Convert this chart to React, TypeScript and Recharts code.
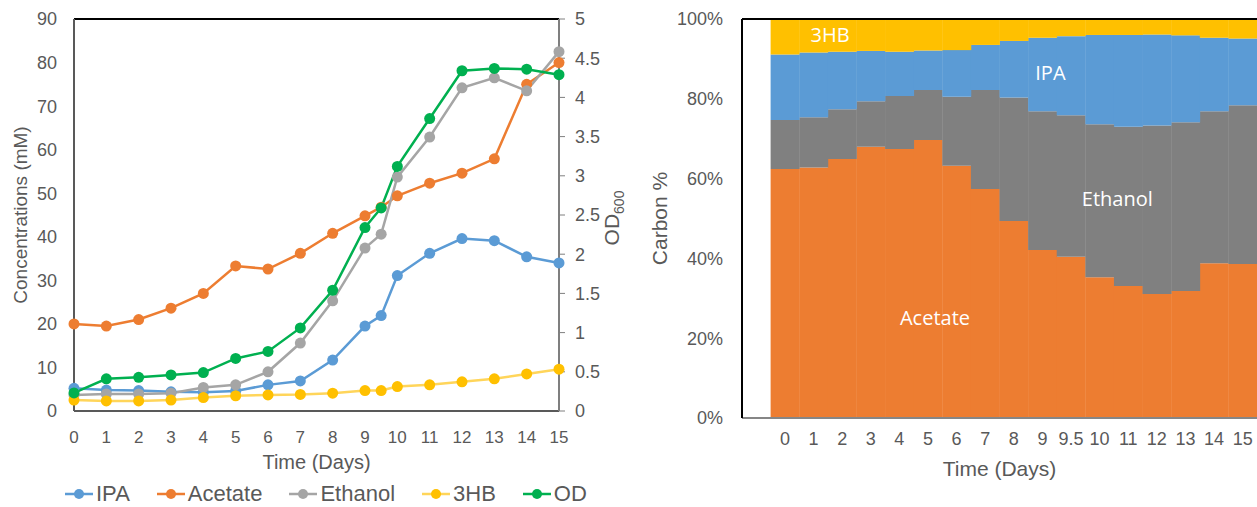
import React from "react";
import {
  LineChart,
  Line,
  XAxis,
  YAxis,
  ReferenceLine,
  BarChart,
  Bar,
  ReferenceDot,
} from "recharts";

// left panel: concentrations (mM) and OD600 over time
const days = [0, 1, 2, 3, 4, 5, 6, 7, 8, 9, 9.5, 10, 11, 12, 13, 14, 15];
const ipa = [5.2, 4.8, 4.7, 4.4, 4.3, 4.6, 6.0, 6.9, 11.7, 19.5, 21.9, 31.1, 36.2, 39.6, 39.1, 35.4, 34.0];
const acetate = [20.0, 19.5, 21.0, 23.6, 27.0, 33.3, 32.6, 36.2, 40.8, 44.8, 46.8, 49.4, 52.3, 54.6, 57.9, 75.0, 80.0];
const ethanol = [3.7, 3.9, 3.9, 4.1, 5.4, 6.0, 9.0, 15.6, 25.3, 37.4, 40.6, 53.7, 62.9, 74.2, 76.5, 73.5, 82.5];
const hb3 = [2.5, 2.3, 2.3, 2.5, 3.1, 3.5, 3.7, 3.8, 4.1, 4.7, 4.7, 5.6, 6.0, 6.7, 7.4, 8.5, 9.6];
const od = [0.23, 0.41, 0.43, 0.46, 0.49, 0.67, 0.76, 1.06, 1.54, 2.34, 2.59, 3.12, 3.73, 4.34, 4.37, 4.36, 4.29];

const dayTicks = [0, 1, 2, 3, 4, 5, 6, 7, 8, 9, 10, 11, 12, 13, 14, 15];
const concTicks = [0, 10, 20, 30, 40, 50, 60, 70, 80, 90];
const odTicks = [0, 0.5, 1, 1.5, 2, 2.5, 3, 3.5, 4, 4.5, 5];

// right panel: carbon share (%) per sampling day, first slot is left empty
const carbonDays = ["", "0", "1", "2", "3", "4", "5", "6", "7", "8", "9", "9.5", "10", "11", "12", "13", "14", "15"];
const cAcetate = [null, 62.4, 62.8, 64.9, 68.0, 67.4, 69.7, 63.2, 57.4, 49.4, 42.1, 40.4, 35.3, 33.1, 31.1, 31.8, 38.8, 38.6];
const cEthanol = [null, 12.3, 12.6, 12.5, 11.4, 13.3, 12.5, 17.3, 24.8, 30.9, 34.8, 35.5, 38.3, 39.9, 42.2, 42.3, 38.1, 39.8];
const cIpa = [null, 16.4, 16.2, 14.4, 12.6, 11.1, 9.9, 11.7, 11.3, 14.2, 18.4, 19.8, 22.4, 23.0, 22.8, 21.8, 18.4, 16.7];
const cHb3 = [null, 8.9, 8.4, 8.2, 8.0, 8.2, 7.9, 7.8, 6.5, 5.5, 4.7, 4.3, 4.0, 4.0, 3.9, 4.1, 4.7, 4.9];
const pctTicks = [0, 20, 40, 60, 80, 100];

const C = {
  ipa: "#5B9BD5",
  acetate: "#ED7D31",
  ethanol: "#A5A5A5",
  ethanolArea: "#808080",
  hb3: "#FFC000",
  hb3Line: "#FFD55A",
  od: "#00B050",
  text: "#595959",
};

const lineData = days.map((d, i) => ({
  day: d,
  ipa: ipa[i],
  acetate: acetate[i],
  ethanol: ethanol[i],
  hb3: hb3[i],
  od: od[i],
}));

const barData = carbonDays.map((d, i) => ({
  day: d,
  acetate: cAcetate[i],
  ethanol: cEthanol[i],
  ipa: cIpa[i],
  hb3: cHb3[i],
}));

const legendItems = [
  { name: "IPA", line: C.ipa, dot: C.ipa },
  { name: "Acetate", line: C.acetate, dot: C.acetate },
  { name: "Ethanol", line: C.ethanol, dot: C.ethanol },
  { name: "3HB", line: C.hb3Line, dot: C.hb3 },
  { name: "OD", line: C.od, dot: C.od },
];

const axisFont = "'Liberation Sans', Arial, sans-serif";
const labelFont = "'Open Sans', 'Liberation Sans', sans-serif";

// OD600 title on the right axis, reading bottom to top
function OdLabel() {
  return (
    <text
      x={619}
      y={218}
      transform="rotate(-90 619 218)"
      textAnchor="middle"
      fill={C.text}
      fontSize={21}
      fontFamily={axisFont}
    >
      OD
      <tspan fontSize={14} dy={5}>600</tspan>
    </text>
  );
}

function whiteLabel(value: string, dx: number) {
  return {
    value,
    position: "center" as const,
    fill: "#ffffff",
    fontSize: 20,
    fontFamily: labelFont,
    dx,
  };
}

export default function App() {
  return (
    <div
      style={{
        position: "fixed",
        left: 0,
        top: 0,
        width: 1257,
        height: 507,
        overflow: "hidden",
        background: "#fff",
      }}
    >
      <div style={{ position: "absolute", left: 0, top: 0 }}>
        <LineChart
          width={640}
          height={507}
          data={lineData}
          margin={{ top: 19, right: 0, bottom: 38, left: 0 }}
        >
          <XAxis
            dataKey="day"
            type="number"
            domain={[0, 15]}
            ticks={dayTicks}
            interval={0}
            height={58}
            axisLine={{ stroke: C.text, strokeWidth: 2 }}
            tickLine={false}
            tickSize={0}
            tickMargin={20}
            tick={{ fill: C.text, fontSize: 17, fontFamily: axisFont }}
            label={{
              value: "Time (Days)",
              position: "insideBottom",
              offset: 0,
              fill: C.text,
              fontSize: 20,
              fontFamily: axisFont,
            }}
          />
          <YAxis
            yAxisId="left"
            domain={[0, 90]}
            ticks={concTicks}
            width={74}
            axisLine={{ stroke: C.text, strokeWidth: 2 }}
            tickLine={false}
            tickSize={0}
            tickMargin={17}
            tick={{ fill: C.text, fontSize: 18, fontFamily: axisFont }}
            label={{
              value: "Concentrations (mM)",
              angle: -90,
              position: "insideLeft",
              offset: 20,
              fill: C.text,
              fontSize: 19,
              fontFamily: axisFont,
              style: { textAnchor: "middle" },
            }}
          />
          <YAxis
            yAxisId="right"
            orientation="right"
            domain={[0, 5]}
            ticks={odTicks}
            width={81}
            axisLine={{ stroke: "#7F7F7F", strokeWidth: 2 }}
            tickLine={{ stroke: "#7F7F7F" }}
            tickSize={6}
            tickMargin={10}
            tick={{ fill: C.text, fontSize: 18, fontFamily: axisFont }}
            label={{ content: () => <OdLabel /> }}
          />
          <ReferenceLine yAxisId="left" y={90} stroke="#000" strokeWidth={2} />
          <Line yAxisId="left" dataKey="ipa" name="IPA" stroke={C.ipa} strokeWidth={2.5}
            dot={{ r: 5.5, fill: C.ipa, stroke: "none" }} isAnimationActive={false} />
          <Line yAxisId="left" dataKey="acetate" name="Acetate" stroke={C.acetate} strokeWidth={2.5}
            dot={{ r: 5.5, fill: C.acetate, stroke: "none" }} isAnimationActive={false} />
          <Line yAxisId="left" dataKey="ethanol" name="Ethanol" stroke={C.ethanol} strokeWidth={2.5}
            dot={{ r: 5.5, fill: C.ethanol, stroke: "none" }} isAnimationActive={false} />
          <Line yAxisId="left" dataKey="hb3" name="3HB" stroke={C.hb3Line} strokeWidth={2.5}
            dot={{ r: 5.5, fill: C.hb3, stroke: "none" }} isAnimationActive={false} />
          <Line yAxisId="right" dataKey="od" name="OD" stroke={C.od} strokeWidth={2.5}
            dot={{ r: 5.5, fill: C.od, stroke: "none" }} isAnimationActive={false} />
        </LineChart>
      </div>

      {/* legend for the left panel */}
      <div
        style={{
          position: "absolute",
          left: 65,
          top: 483,
          display: "flex",
          alignItems: "center",
          gap: 27,
          fontFamily: axisFont,
          fontSize: 22,
          lineHeight: "22px",
          color: C.text,
        }}
      >
        {legendItems.map((it) => (
          <div key={it.name} style={{ display: "flex", alignItems: "center" }}>
            <svg width={28} height={12} style={{ marginRight: 3 }}>
              <line x1={0} y1={6} x2={28} y2={6} stroke={it.line} strokeWidth={2.5} />
              <circle cx={14} cy={6} r={5} fill={it.dot} />
            </svg>
            <span>{it.name}</span>
          </div>
        ))}
      </div>

      <div style={{ position: "absolute", left: 640, top: 0 }}>
        <BarChart
          width={617}
          height={507}
          data={barData}
          barCategoryGap={0}
          barGap={0}
          margin={{ top: 19, right: 0, bottom: 31, left: 0 }}
        >
          <XAxis
            dataKey="day"
            interval={0}
            height={58}
            axisLine={{ stroke: "#868686", strokeWidth: 2 }}
            tickLine={false}
            tickSize={0}
            tickMargin={14}
            tick={{ fill: C.text, fontSize: 18, fontFamily: axisFont }}
            label={{
              value: "Time (Days)",
              position: "insideBottom",
              offset: 0,
              fill: C.text,
              fontSize: 21,
              fontFamily: axisFont,
            }}
          />
          <YAxis
            domain={[0, 100]}
            ticks={pctTicks}
            width={102}
            tickFormatter={(v: number) => `${v}%`}
            axisLine={{ stroke: "#000", strokeWidth: 2 }}
            tickLine={false}
            tickSize={0}
            tickMargin={19}
            tick={{ fill: C.text, fontSize: 18, fontFamily: axisFont }}
            label={{
              value: "Carbon %",
              angle: -90,
              position: "insideLeft",
              offset: 20,
              fill: C.text,
              fontSize: 21,
              fontFamily: axisFont,
              style: { textAnchor: "middle" },
            }}
          />
          <Bar dataKey="acetate" stackId="c" fill={C.acetate} isAnimationActive={false} />
          <Bar dataKey="ethanol" stackId="c" fill={C.ethanolArea} isAnimationActive={false} />
          <Bar dataKey="ipa" stackId="c" fill={C.ipa} isAnimationActive={false} />
          <Bar dataKey="hb3" stackId="c" fill={C.hb3} isAnimationActive={false} />
          <ReferenceLine y={100} stroke="#000" strokeWidth={2} />
          <ReferenceDot x="2" y={96} r={0} label={whiteLabel("3HB", -12)} />
          <ReferenceDot x="9" y={86.5} r={0} label={whiteLabel("IPA", 8)} />
          <ReferenceDot x="11" y={55} r={0} label={whiteLabel("Ethanol", -11)} />
          <ReferenceDot x="5" y={25} r={0} label={whiteLabel("Acetate", 7)} />
        </BarChart>
      </div>
    </div>
  );
}
